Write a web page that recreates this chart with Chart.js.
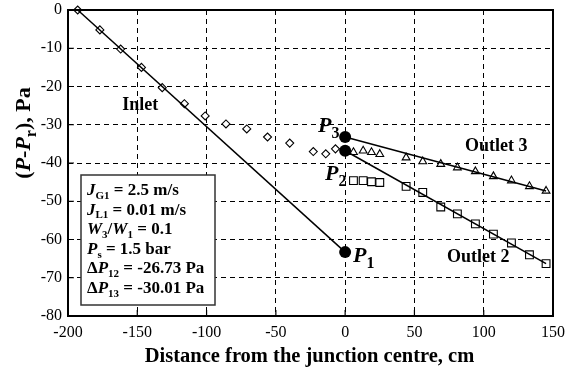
<!DOCTYPE html>
<html>
<head>
<meta charset="utf-8">
<script src="https://cdn.jsdelivr.net/npm/chart.js@4/dist/chart.umd.min.js"></script>
<style>
html,body{margin:0;padding:0;background:#fff;}
#wrap{width:565px;height:374px;position:relative;}
</style>
</head>
<body>
<div id="wrap"><canvas id="c" width="565" height="374"></canvas></div>
<script>
// ---- data ----
const xTicks = [-200,-150,-100,-50,0,50,100,150];
const yTicks = [0,-10,-20,-30,-40,-50,-60,-70,-80];

const inletX = [-193,-177,-162,-147,-132,-116,-101,-86,-71,-56,-40,-23,-14,-7];
const inletY = [0,-5.2,-10.2,-15,-20.3,-24.5,-27.7,-29.8,-31.1,-33.2,-34.8,-37.0,-37.6,-36.3];

const outletX = [6,13,19,25,44,56,69,81,94,107,120,133,145];
const outlet3Y = [-37.2,-36.8,-37.2,-37.7,-38.6,-39.6,-40.3,-41.2,-42.2,-43.5,-44.6,-46.1,-47.3];
const outlet2Y = [-44.6,-44.6,-44.9,-45.1,-46.1,-47.7,-51.5,-53.3,-55.9,-58.6,-60.9,-64.0,-66.3];

const inletLineX = [-193,0];
const inletLineY = [0,-63.3];
const outlet3LineX = [0,145];
const outlet3LineY = [-33.2,-47.3];
const outlet2LineX = [0,145];
const outlet2LineY = [-36.8,-66.3];

const pointNames = ['1','2','3'];
const pointX = [0,0,0];
const pointY = [-63.3,-36.8,-33.2];

const legendLines = [
  [['J','i'],['G1','s'],[' = 2.5 m/s','b']],
  [['J','i'],['L1','s'],[' = 0.01 m/s','b']],
  [['W','i'],['3','s'],['/','b'],['W','i'],['1','s'],[' = 0.1','b']],
  [['P','i'],['s','s'],[' = 1.5 bar','b']],
  [['\u0394','b'],['P','i'],['12','s'],[' = -26.73 Pa','b']],
  [['\u0394','b'],['P','i'],['13','s'],[' = -30.01 Pa','b']]
];

const xTitle = 'Distance from the junction centre, cm';

// ---- helpers ----
const zip = (xs, ys) => xs.map((x, i) => ({x, y: ys[i]}));
const SERIF = '"Liberation Serif", "DejaVu Serif", serif';

function segFont(kind, size) {
  if (kind === 'i') return `italic bold ${size}px ${SERIF}`;
  if (kind === 's') return `bold ${Math.round(size*0.62)}px ${SERIF}`;
  if (kind === 'si') return `bold ${Math.round(size*0.72)}px ${SERIF}`;
  return `bold ${size}px ${SERIF}`;
}
function drawRich(ctx, x, y, segs, size) {
  let cx = x;
  for (const [t, kind] of segs) {
    const dy = kind === 's' ? size*0.22 : kind === 'si' ? size*0.25 : 0;
    ctx.font = segFont(kind, size);
    ctx.fillText(t, cx, y + dy);
    cx += ctx.measureText(t).width;
  }
  return cx - x;
}
function richWidth(ctx, segs, size) {
  let w = 0;
  for (const [t, kind] of segs) { ctx.font = segFont(kind, size); w += ctx.measureText(t).width; }
  return w;
}

const decor = {
  id: 'decor',
  afterDatasetsDraw(chart) {
    const {ctx, chartArea: a, scales: {x, y}} = chart;
    ctx.save();
    ctx.fillStyle = '#000';
    ctx.strokeStyle = '#000';
    // frame
    ctx.lineWidth = 2;
    ctx.setLineDash([]);
    ctx.strokeRect(a.left, a.top, a.right - a.left, a.bottom - a.top);
    // inward tick marks
    ctx.lineWidth = 1.2;
    ctx.beginPath();
    xTicks.forEach(v => { const px = x.getPixelForValue(v); ctx.moveTo(px, a.bottom); ctx.lineTo(px, a.bottom - 6); });
    yTicks.forEach(v => { const py = y.getPixelForValue(v); ctx.moveTo(a.left, py); ctx.lineTo(a.left + 6, py); });
    ctx.stroke();

    // series labels
    ctx.textBaseline = 'alphabetic';
    ctx.textAlign = 'center';
    ctx.font = `bold 18px ${SERIF}`;
    ctx.fillText('Inlet', x.getPixelForValue(-147.8), y.getPixelForValue(-24.5) + 6);
    ctx.fillText('Outlet 3', x.getPixelForValue(109), y.getPixelForValue(-35.2) + 6);
    ctx.fillText('Outlet 2', x.getPixelForValue(96), y.getPixelForValue(-64.2) + 6);
    ctx.textAlign = 'left';

    // point labels P1, P2, P3
    const pLab = [[353, 262], [325, 180], [318, 132]];
    pointNames.forEach((n, i) => {
      drawRich(ctx, pLab[i][0], pLab[i][1], [['P','i'],[n,'si']], 22);
    });

    // legend box
    const bx = 81, by = 175, bw = 134, bh = 130;
    ctx.fillStyle = '#fff';
    ctx.fillRect(bx, by, bw, bh);
    ctx.strokeStyle = '#333';
    ctx.lineWidth = 1.5;
    ctx.strokeRect(bx, by, bw, bh);
    ctx.fillStyle = '#000';
    legendLines.forEach((segs, i) => {
      drawRich(ctx, 87, 195 + i * 19.6, segs, 17);
    });

    // axis titles
    ctx.textAlign = 'center';
    ctx.font = `bold 20.5px ${SERIF}`;
    ctx.fillText(xTitle, (a.left + a.right) / 2 - 1, 362);

    ctx.save();
    ctx.translate(30, 133);
    ctx.rotate(-Math.PI / 2);
    ctx.textAlign = 'left';
    const segs = [['(','b'],['P','i'],['-','b'],['P','i'],['r','si'],['), Pa','b']];
    const w = richWidth(ctx, segs, 22);
    drawRich(ctx, -w / 2, 0, segs, 22);
    ctx.restore();

    ctx.restore();
  }
};

const ptStyle = (style, r) => ({
  showLine: false, pointStyle: style, pointRadius: r, pointHoverRadius: r,
  pointBackgroundColor: '#fff', pointBorderColor: '#000', pointBorderWidth: 1.1
});
const lineStyle = {
  showLine: true, borderColor: '#000', borderWidth: 1.5, pointRadius: 0, pointHoverRadius: 0, fill: false
};
const noPad = s => { s.paddingLeft = 0; s.paddingRight = 0; s.paddingTop = 0; s.paddingBottom = 0; };

new Chart(document.getElementById('c'), {
  type: 'scatter',
  data: {
    datasets: [
      {label: 'P points', data: zip(pointX, pointY), showLine: false, pointStyle: 'circle',
        pointRadius: 6, pointBackgroundColor: '#000', pointBorderColor: '#000', pointBorderWidth: 0},
      {label: 'Inlet line', data: zip(inletLineX, inletLineY), ...lineStyle},
      {label: 'Outlet 3 line', data: zip(outlet3LineX, outlet3LineY), ...lineStyle},
      {label: 'Outlet 2 line', data: zip(outlet2LineX, outlet2LineY), ...lineStyle},
      {label: 'Inlet', data: zip(inletX, inletY), ...ptStyle('rectRot', 4)},
      {label: 'Outlet 3', data: zip(outletX, outlet3Y), ...ptStyle('triangle', 4.5)},
      {label: 'Outlet 2', data: zip(outletX, outlet2Y), ...ptStyle('rect', 5.5)}
    ]
  },
  options: {
    responsive: false,
    animation: false,
    clip: false,
    layout: {padding: {top: 10, right: 12, left: 0, bottom: 0}},
    plugins: {legend: {display: false}, tooltip: {enabled: false}},
    scales: {
      x: {
        type: 'linear', min: -200, max: 150,
        afterBuildTicks: s => { s.ticks = xTicks.map(v => ({value: v})); },
        afterFit: s => { s.height = 58; noPad(s); },
        ticks: {color: '#000', font: {family: SERIF, size: 16}, padding: 7, maxRotation: 0, autoSkip: false},
        grid: {color: '#000', lineWidth: 1, drawTicks: false},
        border: {display: false, dash: [5, 4]}
      },
      y: {
        type: 'linear', min: -80, max: 0,
        afterBuildTicks: s => { s.ticks = yTicks.map(v => ({value: v})); },
        afterFit: s => { s.width = 68; noPad(s); },
        ticks: {color: '#000', font: {family: SERIF, size: 16}, padding: 6, autoSkip: false},
        grid: {color: '#000', lineWidth: 1, drawTicks: false},
        border: {display: false, dash: [5, 4]}
      }
    }
  },
  plugins: [decor]
});
</script>
</body>
</html>
